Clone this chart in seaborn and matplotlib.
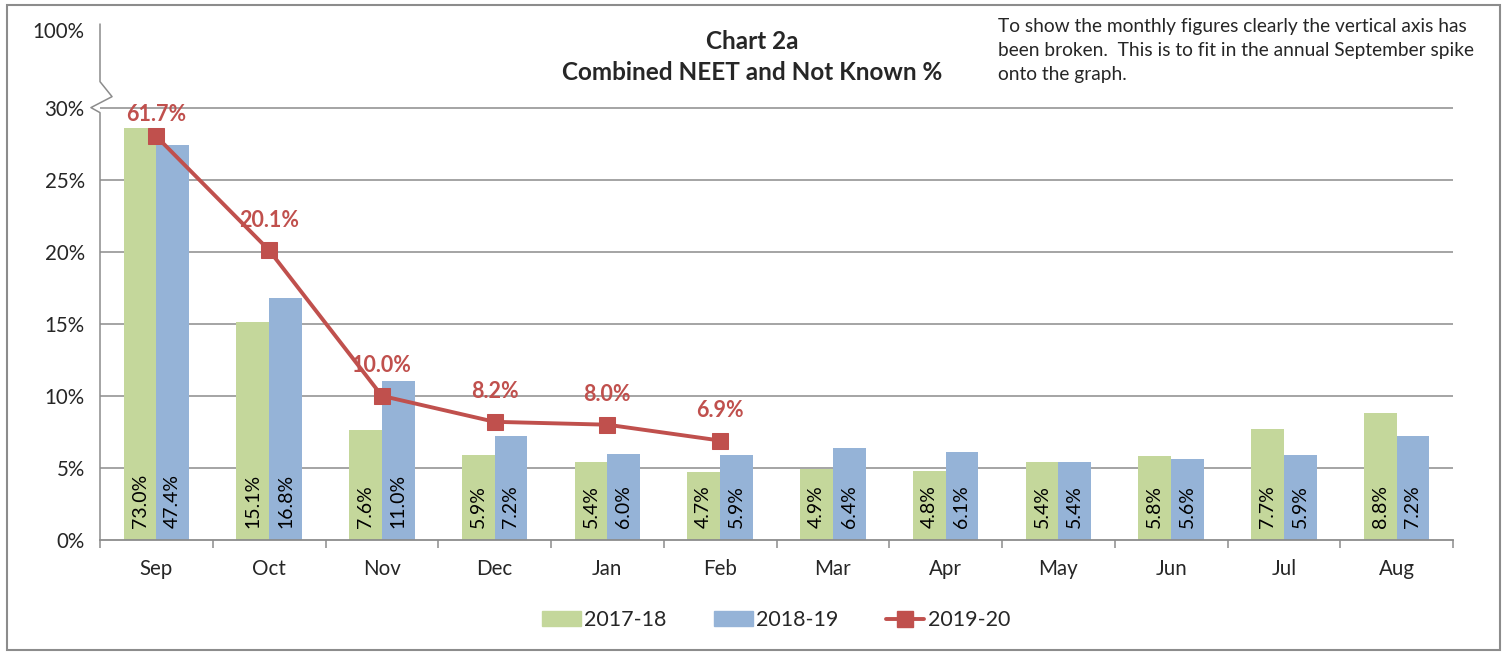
import numpy as np
import pandas as pd
import matplotlib
matplotlib.use('Agg')
import matplotlib.pyplot as plt
import matplotlib.patches as mpatches
from matplotlib.lines import Line2D
import seaborn as sns

# data (percent)
months = ['Sep', 'Oct', 'Nov', 'Dec', 'Jan', 'Feb', 'Mar', 'Apr', 'May', 'Jun', 'Jul', 'Aug']
y1718 = [73.0, 15.1, 7.6, 5.9, 5.4, 4.7, 4.9, 4.8, 5.4, 5.8, 7.7, 8.8]
y1819 = [47.4, 16.8, 11.0, 7.2, 6.0, 5.9, 6.4, 6.1, 5.4, 5.6, 5.9, 7.2]
y1920 = [61.7, 20.1, 10.0, 8.2, 8.0, 6.9]
# Sep spike drawn on the broken part of the axis (heights)
sep_shown = {'2017-18': 28.6, '2018-19': 27.4, '2019-20': 28.0}

years = ['2017-18', '2018-19']
c_green = '#C4D79B'
c_blue = '#95B3D7'
c_red = '#C0504D'
grid_c = '#8C8C8C'

rows = []
for yr, vals in zip(years, [y1718, y1819]):
    for m, v in zip(months, vals):
        shown = sep_shown[yr] if m == 'Sep' else v
        rows.append({'month': m, 'year': yr, 'value': v, 'shown': shown})
bars_df = pd.DataFrame(rows)

line_df = pd.DataFrame({'pos': np.arange(len(y1920)), 'value': y1920})
line_df['shown'] = [sep_shown['2019-20']] + y1920[1:]

sns.set_style('white')
plt.rcParams['font.family'] = ['Lato', 'DejaVu Sans']

fig = plt.figure(figsize=(15.07, 6.57), dpi=100)
ax = fig.add_axes([100 / 1507, 117 / 657, 1353 / 1507, 516 / 657])

sns.barplot(data=bars_df, x='month', y='shown', hue='year', order=months,
            hue_order=years, palette=[c_green, c_blue], width=0.58, gap=0,
            saturation=1, edgecolor='none', legend=False, ax=ax)

# bar value labels (vertical, near base)
for cont, yr in zip(ax.containers, years):
    sub = bars_df[bars_df['year'] == yr].set_index('month').loc[months]
    for bar, v in zip(cont, sub['value']):
        ax.text(bar.get_x() + bar.get_width() / 2, 0.85, f'{v:.1f}%',
                rotation=90, ha='center', va='bottom', fontsize=14, color='black')

sns.lineplot(data=line_df, x='pos', y='shown', color=c_red, linewidth=2.8,
             marker='s', markersize=12, markeredgecolor=c_red, ax=ax, zorder=5)
# labels above the points, kept inside the plot area like Excel does
for p, s, v in zip(line_df['pos'], line_df['shown'], line_df['value']):
    ax.text(p, min(s + 2.1, 29.5), f'{v:.1f}%', ha='center', va='center',
            fontsize=15.5, fontweight='bold', color=c_red, zorder=6)

ymax = 35.8
ax.set_ylim(0, ymax)
ax.set_xlim(-0.5, len(months) - 0.5)
ax.set_xlabel('')
ax.set_ylabel('')

# y ticks with the broken top
ax.set_yticks([0, 5, 10, 15, 20, 25, 30, 35.4])
ax.set_yticklabels(['0%', '5%', '10%', '15%', '20%', '25%', '30%', '100%'])
for g in [5, 10, 15, 20, 25, 30]:
    ax.axhline(g, color=grid_c, linewidth=1.1, zorder=0)
ax.tick_params(axis='y', length=0, pad=11, labelsize=14.8)

# x ticks: labels at centres, tick marks between categories
ax.set_xticks(np.arange(len(months)))
ax.set_xticklabels(months)
ax.set_xticks(np.arange(len(months) + 1) - 0.5, minor=True)
ax.tick_params(axis='x', which='major', length=0, pad=14, labelsize=14.8)
ax.tick_params(axis='x', which='minor', length=6, width=1.1, color=grid_c,
               direction='out', bottom=True)

for s in ['top', 'right', 'left']:
    ax.spines[s].set_visible(False)
ax.spines['bottom'].set_color(grid_c)
ax.spines['bottom'].set_linewidth(1.3)

# left axis line with a zigzag break
tr = ax.get_yaxis_transform()
ax.plot([0, 0, -0.0067, 0.0089, 0, 0], [0, 29.65, 30.0, 30.76, 31.8, ymax],
        color=grid_c, linewidth=1.1, transform=tr, clip_on=False)

fig.text(0.499, 1 - 57 / 657, 'Chart 2a\nCombined NEET and Not Known %', ha='center',
         va='center', fontsize=17.5, fontweight='bold', linespacing=1.45)
fig.text(998 / 1507, 1 - 18 / 657,
         'To show the monthly figures clearly the vertical axis has\n'
         'been broken.  This is to fit in the annual September spike\n'
         'onto the graph.', ha='left', va='top', fontsize=13.8, linespacing=1.5)

handles = [mpatches.Patch(color=c_green, label='2017-18'),
           mpatches.Patch(color=c_blue, label='2018-19'),
           Line2D([], [], color=c_red, linewidth=2.8, marker='s', markersize=12,
                  label='2019-20')]
fig.legend(handles=handles, loc='center', bbox_to_anchor=(0.515, 0.056), ncol=3,
           frameon=False, fontsize=15.5, handlelength=1.8, handletextpad=0.15,
           columnspacing=2.2)

fig.patches.append(mpatches.Rectangle((7 / 1507, 7 / 657), 1493 / 1507, 645 / 657,
                                      transform=fig.transFigure, fill=False,
                                      edgecolor=grid_c, linewidth=1.5))

fig.savefig('out.png', dpi=100)
